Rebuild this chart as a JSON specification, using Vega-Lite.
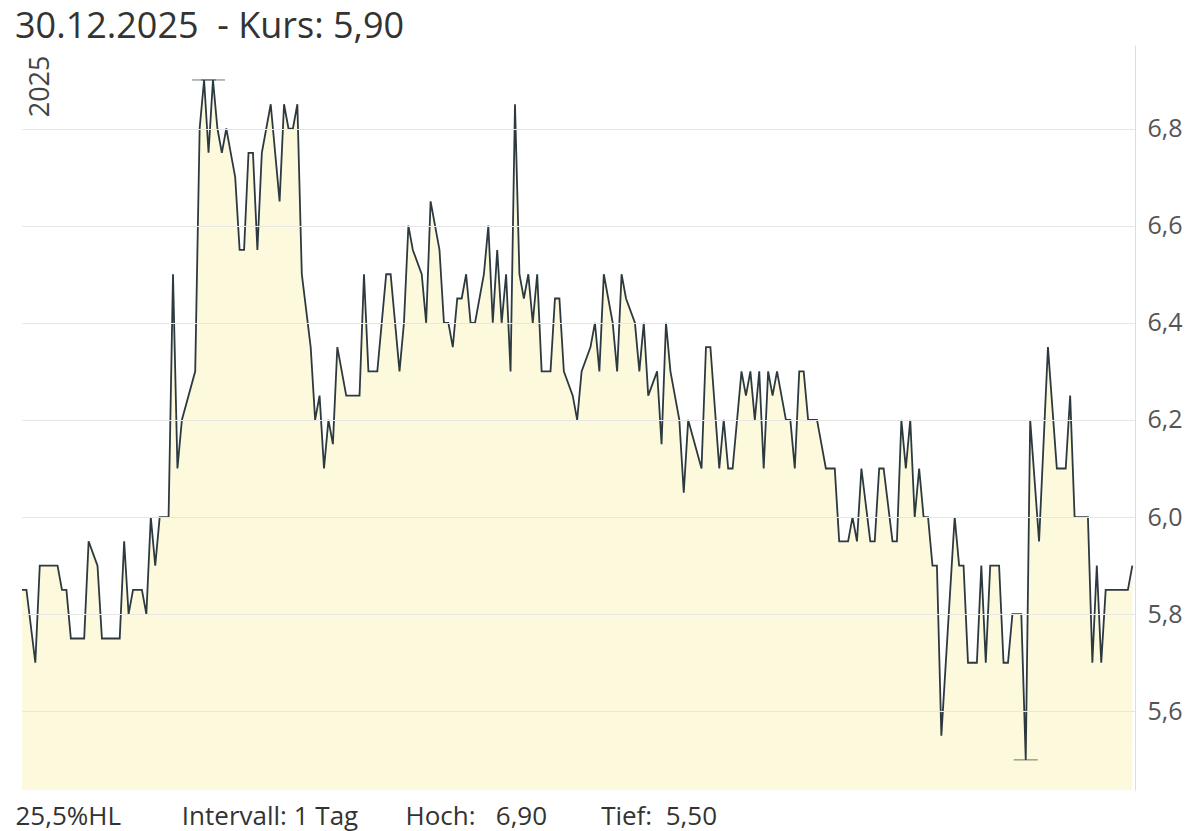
{
  "$schema": "https://vega.github.io/schema/vega-lite/v6.json",
  "width": 1113,
  "height": 745,
  "autosize": {"type": "none"},
  "padding": {"left": 22, "top": 45, "right": 59, "bottom": 41},
  "background": "white",
  "config": {"view": {"stroke": null}, "font": "Open Sans"},
  "title": {
    "text": "30.12.2025\u00a0 - Kurs: 5,90",
    "anchor": "start",
    "frame": "group",
    "dx": -7,
    "dy": 29,
    "offset": 0,
    "fontSize": 36,
    "fontWeight": "normal",
    "color": "#333333",
    "baseline": "alphabetic"
  },
  "data": {
    "values": [
      {"Handelstag": 0, "Kurs": 5.85}, {"Handelstag": 1, "Kurs": 5.85}, {"Handelstag": 3, "Kurs": 5.70}, {"Handelstag": 4, "Kurs": 5.90},
      {"Handelstag": 8, "Kurs": 5.90}, {"Handelstag": 9, "Kurs": 5.85}, {"Handelstag": 10, "Kurs": 5.85}, {"Handelstag": 11, "Kurs": 5.75},
      {"Handelstag": 14, "Kurs": 5.75}, {"Handelstag": 15, "Kurs": 5.95}, {"Handelstag": 17, "Kurs": 5.90}, {"Handelstag": 18, "Kurs": 5.75},
      {"Handelstag": 22, "Kurs": 5.75}, {"Handelstag": 23, "Kurs": 5.95}, {"Handelstag": 24, "Kurs": 5.80}, {"Handelstag": 25, "Kurs": 5.85},
      {"Handelstag": 27, "Kurs": 5.85}, {"Handelstag": 28, "Kurs": 5.80}, {"Handelstag": 29, "Kurs": 6.00}, {"Handelstag": 30, "Kurs": 5.90},
      {"Handelstag": 31, "Kurs": 6.00}, {"Handelstag": 33, "Kurs": 6.00}, {"Handelstag": 34, "Kurs": 6.50}, {"Handelstag": 35, "Kurs": 6.10},
      {"Handelstag": 36, "Kurs": 6.20}, {"Handelstag": 39, "Kurs": 6.30}, {"Handelstag": 40, "Kurs": 6.80}, {"Handelstag": 41, "Kurs": 6.90},
      {"Handelstag": 42, "Kurs": 6.75}, {"Handelstag": 43, "Kurs": 6.90}, {"Handelstag": 44, "Kurs": 6.80}, {"Handelstag": 45, "Kurs": 6.75},
      {"Handelstag": 46, "Kurs": 6.80}, {"Handelstag": 47, "Kurs": 6.75}, {"Handelstag": 48, "Kurs": 6.70}, {"Handelstag": 49, "Kurs": 6.55},
      {"Handelstag": 50, "Kurs": 6.55}, {"Handelstag": 51, "Kurs": 6.75}, {"Handelstag": 52, "Kurs": 6.75}, {"Handelstag": 53, "Kurs": 6.55},
      {"Handelstag": 54, "Kurs": 6.75}, {"Handelstag": 56, "Kurs": 6.85}, {"Handelstag": 58, "Kurs": 6.65}, {"Handelstag": 59, "Kurs": 6.85},
      {"Handelstag": 60, "Kurs": 6.80}, {"Handelstag": 61, "Kurs": 6.80}, {"Handelstag": 62, "Kurs": 6.85}, {"Handelstag": 63, "Kurs": 6.50},
      {"Handelstag": 65, "Kurs": 6.35}, {"Handelstag": 66, "Kurs": 6.20}, {"Handelstag": 67, "Kurs": 6.25}, {"Handelstag": 68, "Kurs": 6.10},
      {"Handelstag": 69, "Kurs": 6.20}, {"Handelstag": 70, "Kurs": 6.15}, {"Handelstag": 71, "Kurs": 6.35}, {"Handelstag": 73, "Kurs": 6.25},
      {"Handelstag": 76, "Kurs": 6.25}, {"Handelstag": 77, "Kurs": 6.50}, {"Handelstag": 78, "Kurs": 6.30}, {"Handelstag": 80, "Kurs": 6.30},
      {"Handelstag": 82, "Kurs": 6.50}, {"Handelstag": 83, "Kurs": 6.50}, {"Handelstag": 85, "Kurs": 6.30}, {"Handelstag": 86, "Kurs": 6.40},
      {"Handelstag": 87, "Kurs": 6.60}, {"Handelstag": 88, "Kurs": 6.55}, {"Handelstag": 90, "Kurs": 6.50}, {"Handelstag": 91, "Kurs": 6.40},
      {"Handelstag": 92, "Kurs": 6.65}, {"Handelstag": 93, "Kurs": 6.60}, {"Handelstag": 94, "Kurs": 6.55}, {"Handelstag": 95, "Kurs": 6.40},
      {"Handelstag": 96, "Kurs": 6.40}, {"Handelstag": 97, "Kurs": 6.35}, {"Handelstag": 98, "Kurs": 6.45}, {"Handelstag": 99, "Kurs": 6.45},
      {"Handelstag": 100, "Kurs": 6.50}, {"Handelstag": 101, "Kurs": 6.40}, {"Handelstag": 102, "Kurs": 6.40}, {"Handelstag": 104, "Kurs": 6.50},
      {"Handelstag": 105, "Kurs": 6.60}, {"Handelstag": 106, "Kurs": 6.40}, {"Handelstag": 107, "Kurs": 6.55}, {"Handelstag": 108, "Kurs": 6.40},
      {"Handelstag": 109, "Kurs": 6.50}, {"Handelstag": 110, "Kurs": 6.30}, {"Handelstag": 111, "Kurs": 6.85}, {"Handelstag": 112, "Kurs": 6.50},
      {"Handelstag": 113, "Kurs": 6.45}, {"Handelstag": 114, "Kurs": 6.50}, {"Handelstag": 115, "Kurs": 6.40}, {"Handelstag": 116, "Kurs": 6.50},
      {"Handelstag": 117, "Kurs": 6.30}, {"Handelstag": 119, "Kurs": 6.30}, {"Handelstag": 120, "Kurs": 6.45}, {"Handelstag": 121, "Kurs": 6.45},
      {"Handelstag": 122, "Kurs": 6.30}, {"Handelstag": 124, "Kurs": 6.25}, {"Handelstag": 125, "Kurs": 6.20}, {"Handelstag": 126, "Kurs": 6.30},
      {"Handelstag": 128, "Kurs": 6.35}, {"Handelstag": 129, "Kurs": 6.40}, {"Handelstag": 130, "Kurs": 6.30}, {"Handelstag": 131, "Kurs": 6.50},
      {"Handelstag": 133, "Kurs": 6.40}, {"Handelstag": 134, "Kurs": 6.30}, {"Handelstag": 135, "Kurs": 6.50}, {"Handelstag": 136, "Kurs": 6.45},
      {"Handelstag": 138, "Kurs": 6.40}, {"Handelstag": 139, "Kurs": 6.30}, {"Handelstag": 140, "Kurs": 6.40}, {"Handelstag": 141, "Kurs": 6.25},
      {"Handelstag": 143, "Kurs": 6.30}, {"Handelstag": 144, "Kurs": 6.15}, {"Handelstag": 145, "Kurs": 6.40}, {"Handelstag": 146, "Kurs": 6.30},
      {"Handelstag": 148, "Kurs": 6.20}, {"Handelstag": 149, "Kurs": 6.05}, {"Handelstag": 150, "Kurs": 6.20}, {"Handelstag": 153, "Kurs": 6.10},
      {"Handelstag": 154, "Kurs": 6.35}, {"Handelstag": 155, "Kurs": 6.35}, {"Handelstag": 157, "Kurs": 6.10}, {"Handelstag": 158, "Kurs": 6.20},
      {"Handelstag": 159, "Kurs": 6.10}, {"Handelstag": 160, "Kurs": 6.10}, {"Handelstag": 162, "Kurs": 6.30}, {"Handelstag": 163, "Kurs": 6.25},
      {"Handelstag": 164, "Kurs": 6.30}, {"Handelstag": 165, "Kurs": 6.20}, {"Handelstag": 166, "Kurs": 6.30}, {"Handelstag": 167, "Kurs": 6.10},
      {"Handelstag": 168, "Kurs": 6.30}, {"Handelstag": 169, "Kurs": 6.25}, {"Handelstag": 170, "Kurs": 6.30}, {"Handelstag": 171, "Kurs": 6.25},
      {"Handelstag": 172, "Kurs": 6.20}, {"Handelstag": 173, "Kurs": 6.20}, {"Handelstag": 174, "Kurs": 6.10}, {"Handelstag": 175, "Kurs": 6.30},
      {"Handelstag": 176, "Kurs": 6.30}, {"Handelstag": 177, "Kurs": 6.20}, {"Handelstag": 179, "Kurs": 6.20}, {"Handelstag": 180, "Kurs": 6.15},
      {"Handelstag": 181, "Kurs": 6.10}, {"Handelstag": 183, "Kurs": 6.10}, {"Handelstag": 184, "Kurs": 5.95}, {"Handelstag": 186, "Kurs": 5.95},
      {"Handelstag": 187, "Kurs": 6.00}, {"Handelstag": 188, "Kurs": 5.95}, {"Handelstag": 189, "Kurs": 6.10}, {"Handelstag": 191, "Kurs": 5.95},
      {"Handelstag": 192, "Kurs": 5.95}, {"Handelstag": 193, "Kurs": 6.10}, {"Handelstag": 194, "Kurs": 6.10}, {"Handelstag": 196, "Kurs": 5.95},
      {"Handelstag": 197, "Kurs": 5.95}, {"Handelstag": 198, "Kurs": 6.20}, {"Handelstag": 199, "Kurs": 6.10}, {"Handelstag": 200, "Kurs": 6.20},
      {"Handelstag": 201, "Kurs": 6.00}, {"Handelstag": 202, "Kurs": 6.10}, {"Handelstag": 203, "Kurs": 6.00}, {"Handelstag": 204, "Kurs": 6.00},
      {"Handelstag": 205, "Kurs": 5.90}, {"Handelstag": 206, "Kurs": 5.90}, {"Handelstag": 207, "Kurs": 5.55}, {"Handelstag": 210, "Kurs": 6.00},
      {"Handelstag": 211, "Kurs": 5.90}, {"Handelstag": 212, "Kurs": 5.90}, {"Handelstag": 213, "Kurs": 5.70}, {"Handelstag": 215, "Kurs": 5.70},
      {"Handelstag": 216, "Kurs": 5.90}, {"Handelstag": 217, "Kurs": 5.70}, {"Handelstag": 218, "Kurs": 5.90}, {"Handelstag": 220, "Kurs": 5.90},
      {"Handelstag": 221, "Kurs": 5.70}, {"Handelstag": 222, "Kurs": 5.70}, {"Handelstag": 223, "Kurs": 5.80}, {"Handelstag": 225, "Kurs": 5.80},
      {"Handelstag": 226, "Kurs": 5.50}, {"Handelstag": 227, "Kurs": 6.20}, {"Handelstag": 229, "Kurs": 5.95}, {"Handelstag": 231, "Kurs": 6.35},
      {"Handelstag": 233, "Kurs": 6.10}, {"Handelstag": 235, "Kurs": 6.10}, {"Handelstag": 236, "Kurs": 6.25}, {"Handelstag": 237, "Kurs": 6.00},
      {"Handelstag": 240, "Kurs": 6.00}, {"Handelstag": 241, "Kurs": 5.70}, {"Handelstag": 242, "Kurs": 5.90}, {"Handelstag": 243, "Kurs": 5.70},
      {"Handelstag": 244, "Kurs": 5.85}, {"Handelstag": 249, "Kurs": 5.85}, {"Handelstag": 250, "Kurs": 5.90}
    ]
  },
  "encoding": {
    "x": {
      "field": "Handelstag",
      "type": "quantitative",
      "scale": {"domain": [0, 250.6], "nice": false, "zero": false},
      "axis": {
        "labels": false,
        "ticks": false,
        "domain": false,
        "grid": false,
        "title": "25,5%HL\u00a0\u00a0\u00a0\u00a0\u00a0\u00a0\u00a0\u00a0 Intervall: 1 Tag\u00a0\u00a0\u00a0\u00a0\u00a0\u00a0 Hoch:\u00a0\u00a0 6,90\u00a0\u00a0\u00a0\u00a0\u00a0\u00a0\u00a0 Tief:\u00a0 5,50",
        "titleX": -7,
        "titleY": 34,
        "titleAlign": "left",
        "titleBaseline": "alphabetic",
        "titleFontSize": 26,
        "titleFontWeight": "normal",
        "titleColor": "#333333",
        "titleFont": "Open Sans"
      }
    }
  },
  "layer": [
    {
      "mark": {"type": "area", "color": "#fdf9dc", "interpolate": "linear", "clip": true},
      "encoding": {
        "y": {
          "field": "Kurs",
          "type": "quantitative",
          "scale": {"domain": [5.438, 6.972], "nice": false, "zero": false},
          "axis": {
            "orient": "right",
            "values": [5.6, 5.8, 6.0, 6.2, 6.4, 6.6, 6.8],
            "labelExpr": "replace(format(datum.value, '.1f'), '.', ',')",
            "grid": true,
            "gridColor": "#e6e6e6",
            "gridWidth": 1,
            "domain": true,
            "domainColor": "#dddddd",
            "ticks": false,
            "labelPadding": 12,
            "labelFontSize": 25,
            "labelColor": "#555555",
            "labelFont": "Open Sans",
            "title": null,
            "zindex": 1
          }
        }
      }
    },
    {
      "mark": {"type": "line", "color": "#2c3a40", "strokeWidth": 1.8, "interpolate": "linear"},
      "encoding": {
        "y": {
          "field": "Kurs",
          "type": "quantitative",
          "axis": {
            "orient": "left",
            "labels": false,
            "ticks": false,
            "domain": false,
            "grid": false,
            "title": "2025",
            "titleAngle": 270,
            "titleX": 26,
            "titleY": 10,
            "titleAlign": "right",
            "titleBaseline": "alphabetic",
            "titleFontSize": 27,
            "titleFontWeight": "normal",
            "titleColor": "#444444",
            "titleFont": "Open Sans"
          }
        }
      }
    },
    {
      "transform": [
        {"joinaggregate": [{"op": "max", "field": "Kurs", "as": "Hoch"}, {"op": "min", "field": "Kurs", "as": "Tief"}]},
        {"filter": "datum.Kurs == datum.Hoch || datum.Kurs == datum.Tief"}
      ],
      "mark": {"type": "tick", "orient": "horizontal", "size": 24, "thickness": 1, "color": "#2c3a40"},
      "encoding": {
        "y": {"field": "Kurs", "type": "quantitative", "axis": null}
      }
    }
  ],
  "resolve": {"axis": {"y": "independent"}}
}
